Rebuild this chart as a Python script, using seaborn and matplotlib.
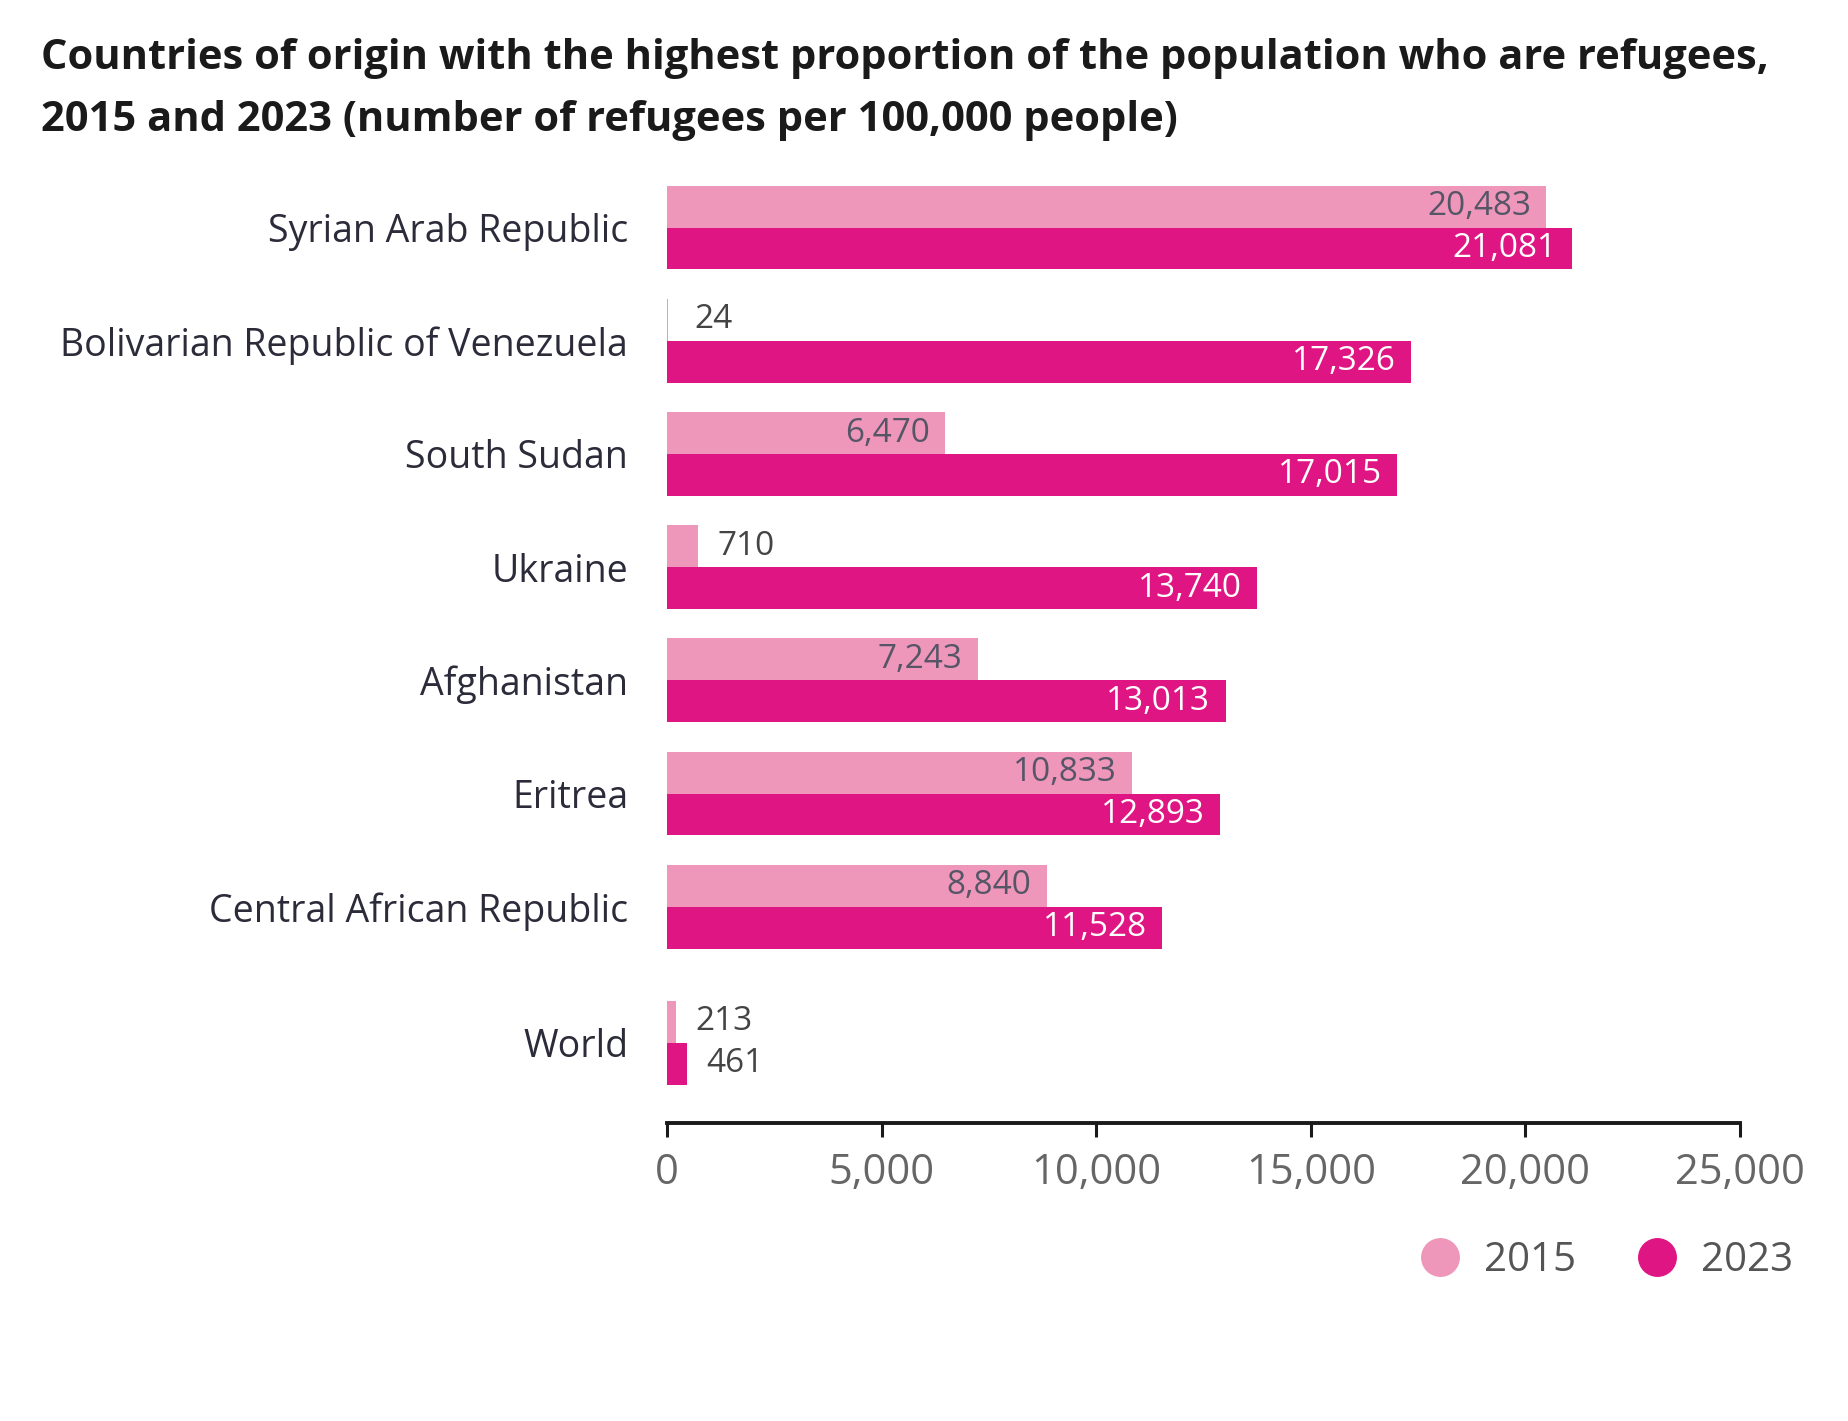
import numpy as np
import pandas as pd
import seaborn as sns
import matplotlib.pyplot as plt
from matplotlib.lines import Line2D

# data
countries = ['Syrian Arab Republic', 'Bolivarian Republic of Venezuela', 'South Sudan',
             'Ukraine', 'Afghanistan', 'Eritrea', 'Central African Republic', 'World']
positions = [0, 1, 2, 3, 4, 5, 6, 7.2]  # World sits a bit apart
vals_2015 = [20483, 24, 6470, 710, 7243, 10833, 8840, 213]
vals_2023 = [21081, 17326, 17015, 13740, 13013, 12893, 11528, 461]
years = ['2015', '2023']
colors = {'2015': '#EE97BA', '2023': '#E01584'}

df = pd.DataFrame({
    'country': countries * 2,
    'pos': positions * 2,
    'year': ['2015'] * len(countries) + ['2023'] * len(countries),
    'value': vals_2015 + vals_2023,
})

sns.set_style('white')
plt.rcParams['font.family'] = ['Open Sans', 'DejaVu Sans']

fig = plt.figure(figsize=(18.48, 14.21), dpi=100)
ax = fig.add_axes([0.361, 0.2097, 0.5806, 0.67])

sns.barplot(data=df, x='value', y='pos', hue='year', hue_order=years, orient='h',
            native_scale=True, palette=colors, width=0.74, dodge=True,
            saturation=1, linewidth=0, ax=ax, legend=False)

ax.set_xlim(0, 25000)
ax.set_ylim(7.91, -0.5)
ax.set_yticks(positions)
ax.set_yticklabels(countries, fontsize=27, color='#2b2b3a')
ax.tick_params(axis='y', left=False, length=0, pad=28)
ax.set_xticks([0, 5000, 10000, 15000, 20000, 25000])
ax.set_xticklabels(['0', '5,000', '10,000', '15,000', '20,000', '25,000'],
                   fontsize=30, color='#666666')
ax.tick_params(axis='x', bottom=True, direction='out', length=10, width=2.2,
               color='#1a1a1a', pad=11)
ax.set_xlabel('')
ax.set_ylabel('')
for s in ['top', 'right', 'left']:
    ax.spines[s].set_visible(False)
ax.spines['bottom'].set_linewidth(2.8)
ax.spines['bottom'].set_color('#1a1a1a')

# value labels
for i, cont in enumerate(ax.containers):
    for p in cont:
        w = p.get_width()
        yc = p.get_y() + p.get_height() / 2
        txt = f'{int(round(w)):,}'
        if w < 1500:
            ax.annotate(txt, (max(w, 180), yc), xytext=(14, 0), textcoords='offset points',
                        ha='left', va='center', fontsize=24, color='#444444')
        else:
            ax.annotate(txt, (w, yc), xytext=(-11, 0), textcoords='offset points',
                        ha='right', va='center', fontsize=24,
                        color='#555566' if i == 0 else 'white')

fig.text(0.022, 0.973,
         'Countries of origin with the highest proportion of the population who are refugees,\n'
         '2015 and 2023 (number of refugees per 100,000 people)',
         ha='left', va='top', fontsize=30, fontweight='bold', color='#1a1a1a',
         linespacing=1.66)

handles = [Line2D([], [], marker='o', linestyle='', markersize=27,
                  markerfacecolor=colors[y], markeredgecolor=colors[y]) for y in years]
fig.legend(handles, years, loc='center right', bbox_to_anchor=(0.99, 0.113), ncol=2,
           frameon=False, fontsize=29, labelcolor='#555555', handletextpad=0.1,
           columnspacing=1.0)

fig.savefig('out.png', dpi=100)
